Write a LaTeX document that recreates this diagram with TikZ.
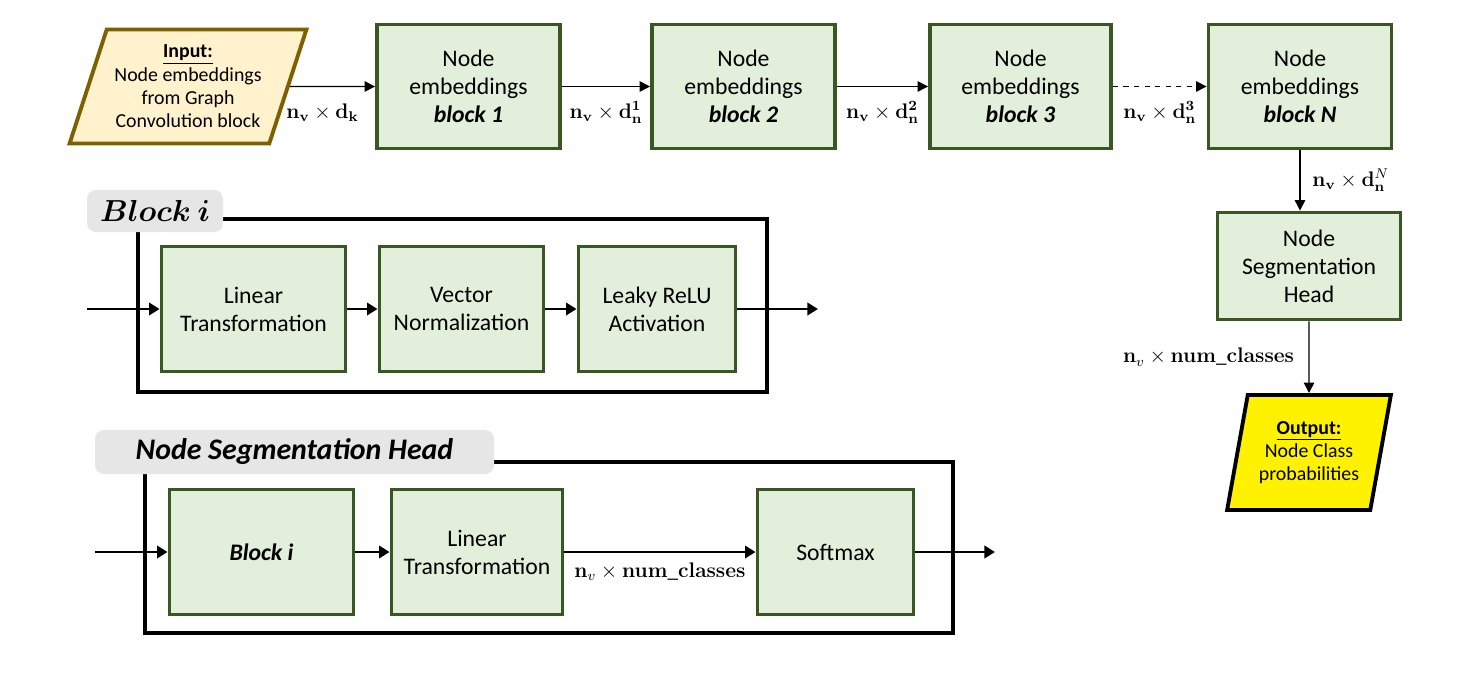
\documentclass[tikz,border=0pt]{standalone}
\usepackage{amsmath}
\usepackage[no-math]{fontspec}
\setmainfont{Carlito}
\usetikzlibrary{arrows.meta,positioning,shapes.geometric}
\definecolor{bxFill}{HTML}{E2EFDA}
\definecolor{bxLine}{HTML}{385723}
\definecolor{inFill}{HTML}{FFF2CC}
\definecolor{inLine}{HTML}{7F6000}
\definecolor{tagFill}{HTML}{E7E6E6}

\begin{document}
\begin{tikzpicture}[
      box/.style={draw=bxLine,fill=bxFill,line width=2.2pt,align=center,
                  font=\fontsize{13.5}{16}\selectfont},
      tag/.style={fill=tagFill,rounded corners=5pt,inner sep=0pt},
      frame/.style={draw=black,line width=2.4pt},
      lbl/.style={font=\fontsize{12}{14}\selectfont,inner sep=1pt},
      thinarr/.style={-{Triangle[length=6pt,width=6pt]},line width=0.7pt},
      thickarr/.style={-{Triangle[length=6pt,width=7pt]},line width=1.6pt}]
    \useasboundingbox (0,0) rectangle (29.16,13.44);

    % main chain
    \node[shape=trapezium,trapezium left angle=68,trapezium right angle=112,
          trapezium stretches=true,minimum width=4.74cm,minimum height=2.28cm,
          draw=inLine,fill=inFill,line width=2.2pt,align=center,inner sep=0pt,
          font=\fontsize{11.3}{13.3}\selectfont] (inp) at (3.76,11.71)
          {\underline{\textbf{Input:}}\\Node embeddings\\from Graph\\Convolution block};
    \node[box,minimum width=3.66cm,minimum height=2.48cm] (b1) at (9.37,11.71)
          {Node\\embeddings\\\textbf{\textit{block 1}}};
    \node[box,minimum width=3.66cm,minimum height=2.48cm] (b2) at (14.87,11.71)
          {Node\\embeddings\\\textbf{\textit{block 2}}};
    \node[box,minimum width=3.62cm,minimum height=2.48cm] (b3) at (20.41,11.71)
          {Node\\embeddings\\\textbf{\textit{block 3}}};
    \node[box,minimum width=3.66cm,minimum height=2.48cm] (bN) at (26.0,11.71)
          {Node\\embeddings\\\textbf{\textit{block N}}};
    \node[box,minimum width=3.66cm,minimum height=2.14cm] (head) at (26.18,8.12)
          {Node\\Segmentation\\Head};
    \node[shape=trapezium,trapezium left angle=75,trapezium right angle=105,
          trapezium stretches=true,minimum width=3.28cm,minimum height=2.3cm,
          draw=black,fill=yellow,line width=2.2pt,align=center,inner sep=0pt,
          font=\fontsize{11.3}{13.3}\selectfont] (out) at (26.18,4.39)
          {\underline{\textbf{Output:}}\\Node Class\\probabilities};

    \draw[thinarr] (inp) -- node[lbl,below=0.3cm,xshift=-0.2cm] {$\mathbf{n_v}\times\mathbf{d_k}$} (b1);
    \draw[thinarr] (b1) -- node[lbl,below=0.25cm] {$\mathbf{n_v}\times\mathbf{d_n^1}$} (b2);
    \draw[thinarr] (b2) -- node[lbl,below=0.25cm] {$\mathbf{n_v}\times\mathbf{d_n^2}$} (b3);
    \draw[thinarr,dashed] (b3) -- node[lbl,below=0.25cm] {$\mathbf{n_v}\times\mathbf{d_n^3}$} (bN);
    \draw[thinarr] (bN.south) -- node[lbl,right=0.2cm] {$\mathbf{n_v}\times\mathbf{d}_\mathbf{n}^{N}$} (bN.south |- head.north);
    \draw[thinarr] (head) -- node[lbl,left=0.25cm] {$\mathbf{n}_v\times\mathbf{num\_classes}$} (out);

    % Block i
    \draw[frame] (2.76,5.6) rectangle (15.34,9.06);
    \node[tag,minimum width=2.72cm,minimum height=0.84cm,
          font=\boldmath\fontsize{17}{20}\selectfont] (tagB) at (3.10,9.22) {$Block\ i$};
    \node[box,minimum width=3.68cm,minimum height=2.5cm] (lin) at (5.07,7.26) {Linear\\Transformation};
    \node[box,minimum width=3.28cm,minimum height=2.5cm] (vnorm) at (9.23,7.26) {Vector\\Normalization};
    \node[box,minimum width=3.14cm,minimum height=2.5cm] (leaky) at (13.14,7.26) {Leaky ReLU\\Activation};
    \coordinate (bin) at (1.74,7.26);
    \coordinate (bout) at (16.36,7.26);
    \foreach \a/\b in {bin/lin,lin/vnorm,vnorm/leaky,leaky/bout}
      \draw[thickarr] (\a) -- (\b);

    % Node Segmentation Head
    \draw[frame] (2.9,0.78) rectangle (19.06,4.2);
    \node[tag,minimum width=7.98cm,minimum height=0.88cm,
          font=\fontsize{17}{20}\selectfont\bfseries\itshape] (tagH) at (5.89,4.40) {Node Segmentation Head};
    \node[box,minimum width=3.68cm,minimum height=2.5cm] (hblk) at (5.23,2.4) {\textbf{\textit{Block i}}};
    \node[box,minimum width=3.42cm,minimum height=2.5cm] (hlin) at (9.54,2.4) {Linear\\Transformation};
    \node[box,minimum width=3.12cm,minimum height=2.5cm] (soft) at (16.71,2.4) {Softmax};
    \coordinate (hin) at (1.9,2.4);
    \coordinate (hout) at (19.9,2.4);
    \draw[thickarr] (hin) -- (hblk);
    \draw[thickarr] (hblk) -- (hlin);
    \draw[thickarr] (hlin) -- node[lbl,below=0.15cm] {$\mathbf{n}_v\times\mathbf{num\_classes}$} (soft);
    \draw[thickarr] (soft) -- (hout);
\end{tikzpicture}
\end{document}
